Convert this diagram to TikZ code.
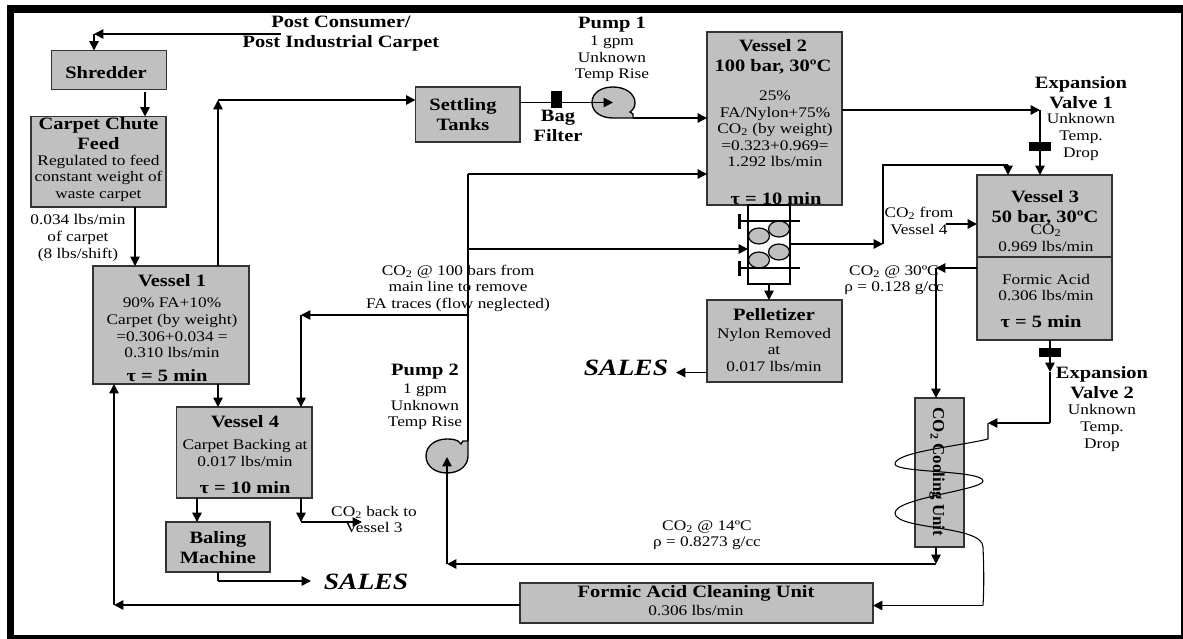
\documentclass[tikz,border=0pt]{standalone}
\usepackage{fontspec}
\usepackage{graphicx}
\setmainfont[FakeStretch=1.18]{Liberation Serif}
\usetikzlibrary{arrows.meta}
\definecolor{boxgray}{HTML}{C0C0C0}
\definecolor{edgegray}{HTML}{333333}
\tikzset{
  x=0.75pt,y=-0.75pt,
  box/.style={draw=edgegray,fill=boxgray,line width=1.1pt,inner sep=0pt,outer sep=0pt},
  txt/.style={align=center,inner sep=0pt,font=\fontsize{11}{12.4}\selectfont},
  hd/.style={align=center,inner sep=0pt,font=\fontsize{13}{15}\selectfont\bfseries},
  sales/.style={inner sep=0pt,font=\fontsize{17.5}{20}\selectfont\bfseries\itshape},
  flow/.style={line width=1.1pt,black},
  arr/.style={flow,-{Triangle[length=7pt,width=7pt]}},
  solid box/.style={fill=black,draw=none,inner sep=0pt,outer sep=0pt},
  ball/.style={draw=black,fill=boxgray,line width=0.9pt},
  plate/.style={black,line width=1.6pt},
  pumpshape/.style={draw=black,fill=boxgray,line width=1pt},
}
\newcommand{\co}{CO\textsubscript{2}}
\begin{document}
\begin{tikzpicture}
\useasboundingbox (0,0) rectangle (1183,639);
% frame
\fill[black] (6.5,5) rectangle (1183,13);
\fill[black] (6.5,5) rectangle (14,639);
\fill[black] (6.5,634.5) rectangle (1183,639);
\fill[black] (1181,5) rectangle (1183,639);
% process boxes
\node[box,minimum width=86.25pt,minimum height=29.25pt] (shred) at (108.75,70) {};
\node[box,minimum width=101.25pt,minimum height=67.9pt] (chute) at (98.5,161.75) {};
\node[box,minimum width=117pt,minimum height=88.5pt] (v1) at (171,325) {};
\node[box,minimum width=78.4pt,minimum height=41.25pt] (settle) at (467.75,114.5) {};
\node[box,minimum width=101.25pt,minimum height=129.75pt] (v2) at (774.5,118.5) {};
\node[box,minimum width=101.25pt,minimum height=123.75pt] (v3) at (1044.5,257.5) {};
\node[box,minimum width=101.25pt,minimum height=61.5pt] (pellet) at (774.5,341) {};
\node[box,minimum width=101.6pt,minimum height=68.25pt] (v4) at (244.25,452.5) {};
\node[box,minimum width=78pt,minimum height=37.5pt] (bale) at (218,547) {};
\node[box,minimum width=36.75pt,minimum height=111.75pt] (cool) at (939.5,472.5) {};
\node[box,minimum width=264.75pt,minimum height=30pt] (clean) at (696.5,603) {};
\draw[edgegray,line width=1.8pt] (v3.west |- 0,257) -- (v3.east |- 0,257);
% filter
\node[draw=black,fill=white,line width=1pt,minimum width=31.5pt,minimum height=59.25pt,inner sep=0pt,outer sep=0pt] (filter) at (769,244.5) {};
\filldraw[ball] (759,236) circle[x radius=10.5,y radius=8];
\filldraw[ball] (779,229) circle[x radius=10.5,y radius=8];
\filldraw[ball] (779,252) circle[x radius=10.5,y radius=8];
\filldraw[ball] (759,260) circle[x radius=10.5,y radius=8];
\draw[plate] (739,221) -- (800,221);
\draw[plate] (739,268) -- (800,268);
\fill[black] (737.5,214) rectangle (741,229);
\fill[black] (737.5,261) rectangle (741,276);
% pumps
\filldraw[pumpshape] (613,118) .. controls (601,118) and (592,112) .. (592,102.5) .. controls (592,93) and (601,87) .. (613,87) .. controls (626,87) and (635,94) .. (635,103) .. controls (635,107) and (633,110) .. (630,112) -- (633,114) -- (633,118) -- cycle;
\filldraw[pumpshape] (468,441) -- (463,441) -- (461,444) -- (458,441) .. controls (455,439.5) and (451,439) .. (447,439) .. controls (435,439) and (426,446) .. (426,456) .. controls (426,466) and (435,473) .. (447,473) .. controls (459,473) and (468,466) .. (468,456) -- cycle;
% valves and bag filter
\node[solid box,minimum width=8.25pt,minimum height=13pt] (bag) at (556.5,99.5) {};
\node[solid box,minimum width=16.5pt,minimum height=6.75pt] (valve1) at (1040,146) {};
\node[solid box,minimum width=16.5pt,minimum height=6.75pt] (valve2) at (1050,352.5) {};
% junction coordinates
\coordinate (feedcorner) at (94,34);
\coordinate (feedstart) at (281,34);
\coordinate (v1up) at (218,100);
\coordinate (p1c) at (613,102.5);
\coordinate (p1out) at (633,118);
\coordinate (p2c) at (447,457);
\coordinate (p2out) at (468,441);
\coordinate (main) at (468,174);
\coordinate (mainb) at (468,249);
\coordinate (mainc) at (468,315);
\coordinate (v4in) at (301,315);
\coordinate (ctop) at (1040,110);
\coordinate (fo) at (883,244);
\coordinate (fotop) at (883,165);
\coordinate (foend) at (1008,165);
\coordinate (back) at (301,522);
\coordinate (backend) at (362,522);
\coordinate (co4start) at (946,224);
\coordinate (v3l) at (936,268);
\coordinate (v3d) at (1050,423);
\coordinate (coilend) at (988,423);
\coordinate (coilstart) at (988,439);
\coordinate (coilout) at (983,605.5);
\coordinate (lowline) at (936,564);
\coordinate (lowp2) at (447,564);
\coordinate (ret) at (114,605);
\coordinate (baled) at (218,581);
\coordinate (saleend) at (311,581);
% connectors
\draw[arr] (feedstart) -- (feedcorner);
\draw[arr] (feedcorner) -- (feedcorner |- shred.north);
\draw[arr] (145,92) coordinate (sd) -- (sd |- chute.north);
\draw[arr] (chute.south -| 135,0) coordinate (cd) -- (cd |- v1.north);
\draw[arr] (v1.north -| v1up) -- (v1up);
\draw[arr] (v1up) -- (settle.west |- v1up);
\draw[flow] (settle.east |- p1c) -- (bag.west |- p1c);
\draw[arr] (bag.east |- p1c) -- (p1c);
\draw[arr] (p1out) -- (v2.west |- p1out);
\draw[flow] (p2out) -- (main);
\draw[arr] (main) -- (v2.west |- main);
\draw[arr] (mainb) -- (filter.west |- mainb);
\draw[arr] (mainc) -- (v4in);
\draw[arr] (v4in) -- (v4in |- v4.north);
\draw[arr] (v2.east |- ctop) -- (ctop);
\draw[arr] (ctop) -- (ctop |- v3.north);
\draw[arr] (filter.east |- fo) -- (fo);
\draw[flow] (fo) -- (fotop) -- (foend);
\draw[arr] (foend) -- (foend |- v3.north);
\draw[arr] (co4start) -- (v3.west |- co4start);
\draw[arr] (v3.west |- v3l) -- (v3l);
\draw[arr] (v3l) -- (v3l |- cool.north);
\draw[arr] (v3.south -| v3d) -- (1050,372) coordinate (v3da);
\draw[flow] (v3da) -- (v3d);
\draw[arr] (v3d) -- (coilend);
\draw[flow,line width=0.8pt] (coilend) -- (coilstart) .. controls (960,446) and (895,452) .. (895,464) .. controls (895,473) and (983,470) .. (983,481) .. controls (983,490) and (895,498) .. (895,513) .. controls (895,530) and (983,525) .. (983,547) .. controls (984,570) and (984,590) .. (coilout);
\draw[arr] (coilout) -- (clean.east |- coilout);
\draw[arr] (cool.south -| lowline) -- (lowline);
\draw[arr] (lowline) -- (lowp2);
\draw[arr] (lowp2) -- (p2c);
\draw[arr] (v1.south -| 218,0) coordinate (vd) -- (vd |- v4.north);
\draw[arr] (v4.south -| 197,0) coordinate (bd) -- (bd |- bale.north);
\draw[arr] (v4.south -| back) -- (back);
\draw[arr] (back) -- (backend);
\draw[flow] (bale.south -| baled) -- (baled);
\draw[arr] (baled) -- (saleend);
\draw[arr] (pellet.west |- 0,372.5) -- (676,372.5);
\draw[arr] (filter.south) -- (pellet.north -| filter.south);
\draw[arr] (clean.west |- ret) -- (ret);
\draw[arr] (ret) -- (ret |- v1.south);
% texts
\node[hd] (t1) at (341,34) {Post Consumer/\\Post Industrial Carpet};
\node[hd] (t2) at (106,73) {Shredder};
\node[hd] (t3) at (98.5,134) {Carpet Chute\\Feed};
\node[txt] (t4) at (98.5,178) {Regulated to feed\\constant weight of\\waste carpet};
\node[txt] (t5) at (78,238) {0.034 lbs/min\\of carpet\\(8 lbs/shift)};
\node[hd] (t6) at (172,281) {Vessel 1};
\node[txt] (t7) at (172,328) {90\% FA+10\%\\Carpet (by weight)\\=0.306+0.034 =\\0.310 lbs/min};
\node[hd] (t8) at (167,376) {τ = 5 min};
\node[hd] (t9) at (245,422) {Vessel 4};
\node[txt] (t10) at (245,453) {Carpet Backing at\\0.017 lbs/min};
\node[hd] (t11) at (245,488) {τ = 10 min};
\node[hd] (t12) at (218,548) {Baling\\Machine};
\node[sales] (t13) at (366,582) {SALES};
\node[sales] (t14) at (626,368) {SALES};
\node[hd] (t15) at (425,372) {Pump 2};
\node[txt] (t16) at (425,407) {1 gpm\\Unknown\\Temp Rise};
\node[txt] (t17) at (374,519.5) {\co{} back to\\Vessel 3};
\node[txt] (t18) at (458,288) {\co{} @ 100 bars from\\main line to remove\\FA traces (flow neglected)};
\node[hd] (t19) at (463,115) {Settling\\Tanks};
\node[hd] (t20) at (558,126) {Bag\\Filter};
\node[hd] (t21) at (612,25) {Pump 1};
\node[txt] (t22) at (612,59) {1 gpm\\Unknown\\Temp Rise};
\node[hd] (t23) at (773,57) {Vessel 2\\100 bar, 30ºC};
\node[txt] (t24) at (775,129) {25\%\\FA/Nylon+75\%\\\co{} (by weight)\\=0.323+0.969=\\1.292 lbs/min};
\node[hd] (t25) at (776,199) {τ = 10 min};
\node[hd] (t26) at (1081,92.5) {Expansion\\Valve 1};
\node[txt] (t27) at (1081,137) {Unknown\\Temp.\\Drop};
\node[txt] (t28) at (919,221) {\co{} from\\Vessel 4};
\node[hd] (t29) at (1045,208) {Vessel 3\\50 bar, 30ºC};
\node[txt] (t30) at (1046,238) {\co\\0.969 lbs/min};
\node[txt] (t31) at (1046,287.5) {Formic Acid\\0.306 lbs/min};
\node[hd] (t32) at (1041,322) {τ = 5 min};
\node[txt] (t33) at (894,280) {\co{} @ 30ºC\\ρ = 0.128 g/cc};
\node[hd] (t34) at (774,315) {Pelletizer};
\node[txt] (t35) at (774,350) {Nylon Removed\\at\\0.017 lbs/min};
\node[hd] (t36) at (1102,382.5) {Expansion\\Valve 2};
\node[txt] (t37) at (1102,428) {Unknown\\Temp.\\Drop};
\node[inner sep=0pt,rotate=-90,font=\fontsize{12.5}{14}\selectfont\bfseries] (t38) at (937,472) {\scalebox{0.86}[1]{\co{} Cooling Unit}};
\node[txt] (t39) at (707,535) {\co{} @ 14ºC\\ρ = 0.8273 g/cc};
\node[hd] (t40) at (696,593) {Formic Acid Cleaning Unit};
\node[txt] (t41) at (696,611) {0.306 lbs/min};
\end{tikzpicture}
\end{document}
